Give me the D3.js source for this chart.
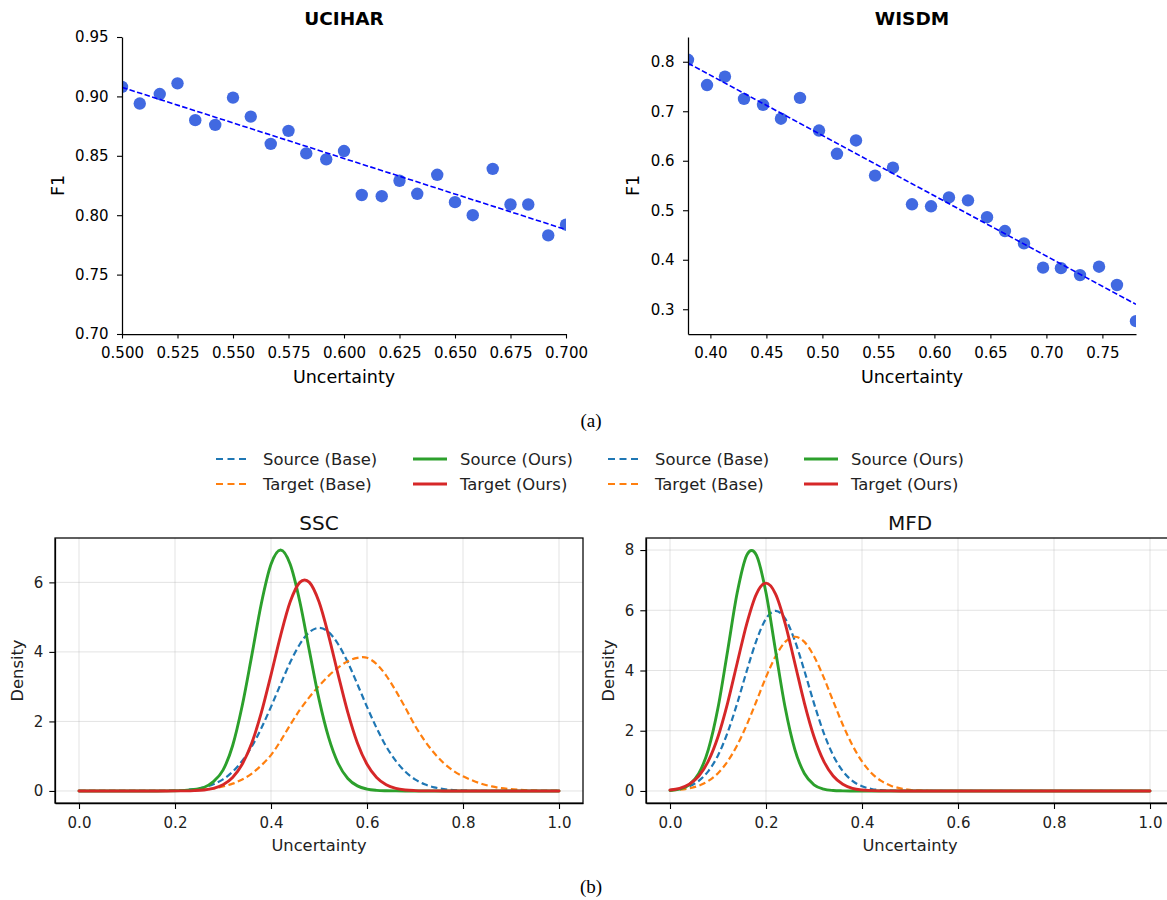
<!DOCTYPE html>
<html><head><meta charset="utf-8">
<script src="https://cdn.jsdelivr.net/npm/d3@7/dist/d3.min.js"></script>
<style>
body{margin:0;background:#fff}
svg{display:block}
text{font-family:"DejaVu Sans",sans-serif}
</style>
</head><body>
<svg id="c" width="1167" height="900"></svg>
<script>
// ---------- DATA ----------
const uciharU  = [0.500,0.508,0.517,0.525,0.533,0.542,0.550,0.558,0.567,0.575,0.583,0.592,0.600,0.608,0.617,0.625,0.633,0.642,0.650,0.658,0.667,0.675,0.683,0.692,0.700];
const uciharF1 = [0.908,0.894,0.902,0.911,0.880,0.876,0.899,0.883,0.860,0.871,0.852,0.847,0.854,0.817,0.816,0.829,0.818,0.834,0.811,0.800,0.839,0.809,0.809,0.783,0.792];
const wisdmU   = [0.380,0.397,0.413,0.430,0.447,0.463,0.480,0.497,0.513,0.530,0.547,0.563,0.580,0.597,0.613,0.630,0.647,0.663,0.680,0.697,0.713,0.730,0.747,0.763,0.780];
const wisdmF1  = [0.804,0.753,0.770,0.725,0.713,0.685,0.727,0.661,0.614,0.641,0.570,0.586,0.512,0.508,0.526,0.520,0.486,0.458,0.433,0.384,0.383,0.369,0.386,0.349,0.276];

const uciharTicksX = [0.500,0.525,0.550,0.575,0.600,0.625,0.650,0.675,0.700];
const uciharTicksY = [0.70,0.75,0.80,0.85,0.90,0.95];
const wisdmTicksX  = [0.40,0.45,0.50,0.55,0.60,0.65,0.70,0.75];
const wisdmTicksY  = [0.3,0.4,0.5,0.6,0.7,0.8];

const densU = [0.00,0.02,0.04,0.06,0.08,0.10,0.12,0.14,0.16,0.18,0.20,0.22,0.24,0.26,0.28,0.30,0.32,0.34,0.36,0.38,0.40,0.42,0.44,0.46,0.48,0.50,0.52,0.54,0.56,0.58,0.60,0.62,0.64,0.66,0.68,0.70,0.72,0.74,0.76,0.78,0.80,0.82,0.84,0.86,0.88,0.90,0.92,0.94,0.96,0.98,1.00];

const sscSourceBase = [0,0,0,0,0,0,0,0, 0.002,0.005,0.012,0.026,0.054,0.104,0.192,0.334,0.552,0.865, 1.28,1.81,2.42,3.07,3.70,4.22,4.57,4.69,4.57,4.22, 3.70,3.07,2.42,1.81,1.28,0.865,0.552,0.334,0.192,0.104, 0.054,0.026,0.012,0.005,0.002, 0,0,0,0,0,0,0,0];
const sscTargetBase = [0,0,0,0,0,0,0,0,0,0, 0.005,0.01,0.02,0.04,0.07,0.13,0.21,0.33,0.50,0.74, 1.03,1.44,1.90,2.33,2.70,3.02,3.31,3.55,3.73,3.83, 3.83,3.65,3.32,2.88,2.39,1.88,1.45,1.09,0.80,0.58, 0.42,0.30,0.20,0.13,0.08,0.05,0.03,0.015,0.007,0.003, 0.001];
const sscSourceOurs = [0,0,0,0,0,0,0,0,0, 0.001,0.005,0.017,0.045,0.10,0.27,0.60,1.30,2.45,3.90,5.40, 6.52,6.93,6.52,5.45,4.03,2.64,1.54,0.79,0.36,0.146, 0.053,0.017,0.005,0.001, 0,0,0,0,0,0,0,0,0,0,0,0,0,0,0,0,0];
const sscTargetOurs = [0,0,0,0,0,0,0,0,0,0, 0.001,0.003,0.010,0.028,0.074,0.178,0.389,0.768,1.38,2.26, 3.34,4.47,5.44,6.00,6.00,5.44,4.47,3.34,2.26,1.38, 0.768,0.389,0.178,0.074,0.028,0.010,0.003,0.001, 0,0,0,0,0,0,0,0,0,0,0,0,0];

const mfdSourceBase = [0.026,0.066,0.156,0.336,0.660,1.18,1.94,2.91,3.99,4.995, 5.72,5.98,5.72,4.995,3.99,2.91,1.94,1.18,0.660,0.336, 0.156,0.066,0.026,0.009,0.003,0.001, 0,0,0,0,0,0,0,0,0,0,0,0,0,0,0,0,0,0,0,0,0,0,0,0,0];
const mfdTargetBase = [0.017,0.040,0.086,0.176,0.333,0.591,0.981,1.52,2.20,2.98, 3.78,4.47,4.95,5.12,4.95,4.47,3.78,2.98,2.20,1.52, 0.981,0.591,0.333,0.176,0.086,0.040,0.017,0.007,0.003,0.001, 0,0,0,0,0,0,0,0,0,0,0,0,0,0,0,0,0,0,0,0,0];
const mfdSourceOurs = [0.015,0.061,0.205,0.579,1.38,2.76,4.65,6.58,7.83,7.83, 6.58,4.65,2.76,1.38,0.579,0.205,0.061,0.015,0.003, 0,0,0,0,0,0,0,0,0,0,0,0,0,0,0,0,0,0,0,0,0,0,0,0,0,0,0,0,0,0,0,0];
const mfdTargetOurs = [0.032,0.089,0.221,0.496,0.998,1.80,2.92,4.25,5.56,6.54, 6.90,6.54,5.56,4.25,2.92,1.80,0.998,0.496,0.221,0.089, 0.032,0.010,0.003,0.001, 0,0,0,0,0,0,0,0,0,0,0,0,0,0,0,0,0,0,0,0,0,0,0,0,0,0,0];

const densTicksX = [0.0,0.2,0.4,0.6,0.8,1.0];
const sscTicksY  = [0,2,4,6];
const mfdTicksY  = [0,2,4,6,8];

const seriesLabels = ["Source (Base)","Target (Base)","Source (Ours)","Target (Ours)"];
const seriesColors = ["#1f77b4","#ff7f0e","#2ca02c","#d62728"];
const seriesDashed = [true,true,false,false];

// ---------- DRAW ----------
const svg = d3.select("#c");
const defs = svg.append("defs");

function styleAxis(g, fs, col){
  g.select(".domain").attr("stroke","#000").attr("stroke-width",1.25);
  g.selectAll(".tick line").attr("stroke","#000").attr("stroke-width",1.1);
  g.selectAll(".tick text").attr("fill",col).style("font-size",fs+"px").style("font-family","DejaVu Sans");
}

function scatterPanel(p){
  const x = d3.scaleLinear().domain(p.xDom).range([p.left,p.right]);
  const y = d3.scaleLinear().domain(p.yDom).range([p.bottom,p.top]);
  const g = svg.append("g");
  defs.append("clipPath").attr("id","clip"+p.id).append("rect")
    .attr("x",p.left).attr("y",p.top).attr("width",p.right-p.left).attr("height",p.bottom-p.top);
  const pg = g.append("g").attr("clip-path",`url(#clip${p.id})`);
  pg.selectAll("circle").data(p.xs).join("circle")
    .attr("cx",d=>x(d)).attr("cy",(d,i)=>y(p.ys[i])).attr("r",6.2).attr("fill","#4169e1");
  // least squares trend line
  const mx=d3.mean(p.xs), my=d3.mean(p.ys);
  const sxy=d3.sum(p.xs,(d,i)=>(d-mx)*(p.ys[i]-my));
  const sxx=d3.sum(p.xs,d=>(d-mx)*(d-mx));
  const k=sxy/sxx, b=my-k*mx;
  pg.append("path").datum(p.xDom)
    .attr("d",d3.line().x(d=>x(d)).y(d=>y(k*d+b)))
    .attr("fill","none").attr("stroke","#0000ff").attr("stroke-width",1.6).attr("stroke-dasharray","5.5,2.4");

  const xa = g.append("g").attr("transform",`translate(0,${p.bottom})`)
    .call(d3.axisBottom(x).tickValues(p.xt).tickFormat(d3.format(p.xf)).tickSize(4.5).tickSizeOuter(0).tickPadding(9));
  styleAxis(xa,15,"#000");
  const ya = g.append("g").attr("transform",`translate(${p.left},0)`)
    .call(d3.axisLeft(y).tickValues(p.yt).tickFormat(d3.format(p.yf)).tickSize(5).tickSizeOuter(0).tickPadding(8.5));
  styleAxis(ya,15,"#000");

  const cx=(p.left+p.right)/2;
  g.append("text").attr("x",cx).attr("y",25).attr("text-anchor","middle")
    .style("font-size","18.5px").style("font-weight","bold").text(p.title);
  g.append("text").attr("x",cx).attr("y",383).attr("text-anchor","middle")
    .style("font-size","17.5px").text("Uncertainty");
  g.append("text").attr("transform",`translate(${p.ylabX},${(p.top+p.bottom)/2}) rotate(-90)`)
    .attr("text-anchor","middle").style("font-size","17.5px").text("F1");
}

scatterPanel({id:"u",left:122,right:566,top:37,bottom:334,xDom:[0.5,0.7],yDom:[0.70,0.95],
  xs:uciharU,ys:uciharF1,xt:uciharTicksX,yt:uciharTicksY,xf:".3f",yf:".2f",title:"UCIHAR",ylabX:63.5});
scatterPanel({id:"w",left:688,right:1136,top:37,bottom:334,xDom:[0.38,0.78],yDom:[0.25,0.85],
  xs:wisdmU,ys:wisdmF1,xt:wisdmTicksX,yt:wisdmTicksY,xf:".2f",yf:".1f",title:"WISDM",ylabX:638.5});

function densPanel(p){
  const x = d3.scaleLinear().domain([-0.05,1.05]).range([p.left,p.right]);
  const y = d3.scaleLinear().domain(p.yDom).range([p.bottom,p.top]);
  const g = svg.append("g");
  // grid
  g.append("g").selectAll("line").data(densTicksX).join("line")
    .attr("x1",d=>x(d)).attr("x2",d=>x(d)).attr("y1",p.top).attr("y2",p.bottom)
    .attr("stroke","#b0b0b0").attr("stroke-opacity",0.35).attr("stroke-width",1);
  g.append("g").selectAll("line").data(p.yt).join("line")
    .attr("y1",d=>y(d)).attr("y2",d=>y(d)).attr("x1",p.left).attr("x2",p.right)
    .attr("stroke","#b0b0b0").attr("stroke-opacity",0.35).attr("stroke-width",1);
  // curves
  const line = d3.line().x((d,i)=>x(densU[i])).y(d=>y(d)).curve(d3.curveCardinal.tension(0));
  p.series.forEach((s,j)=>{
    g.append("path").datum(s).attr("d",line).attr("fill","none")
      .attr("stroke",seriesColors[j])
      .attr("stroke-width",seriesDashed[j]?2.2:2.9)
      .attr("stroke-dasharray",seriesDashed[j]?"6.5,3.5":null)
      .attr("stroke-linecap",seriesDashed[j]?"butt":"round");
  });
  // axes
  const xa = g.append("g").attr("transform",`translate(0,${p.bottom})`)
    .call(d3.axisBottom(x).tickValues(densTicksX).tickFormat(d3.format(".1f")).tickSize(6).tickSizeOuter(0).tickPadding(8.5));
  styleAxis(xa,15,"#222");
  const ya = g.append("g").attr("transform",`translate(${p.left},0)`)
    .call(d3.axisLeft(y).tickValues(p.yt).tickFormat(d3.format("d")).tickSize(5.7).tickSizeOuter(0).tickPadding(6));
  styleAxis(ya,15,"#222");
  g.append("rect").attr("x",p.left).attr("y",p.top).attr("width",p.right-p.left).attr("height",p.bottom-p.top)
    .attr("fill","none").attr("stroke","#000").attr("stroke-width",1.25);
  const cx=(p.left+p.right)/2;
  g.append("text").attr("x",cx).attr("y",529.5).attr("text-anchor","middle")
    .style("font-size","20px").attr("fill","#111").text(p.title);
  g.append("text").attr("x",cx).attr("y",851).attr("text-anchor","middle")
    .style("font-size","16.3px").attr("fill","#222").text("Uncertainty");
  g.append("text").attr("transform",`translate(${p.ylabX},${(p.top+p.bottom)/2}) rotate(-90)`)
    .attr("text-anchor","middle").style("font-size","16.3px").attr("fill","#222").text("Density");
}

densPanel({left:55,right:583,top:538,bottom:803,yDom:[-0.3465,7.2765],yt:sscTicksY,title:"SSC",ylabX:23,
  series:[sscSourceBase,sscTargetBase,sscSourceOurs,sscTargetOurs]});
densPanel({left:646,right:1174,top:538,bottom:803,yDom:[-0.4,8.4],yt:mfdTicksY,title:"MFD",ylabX:614,
  series:[mfdSourceBase,mfdTargetBase,mfdSourceOurs,mfdTargetOurs]});

// legend: 4 columns x 2 rows (two copies of the series set)
const legTextX = [263,460,655,851];
const legRowY = [459,484];
const legend = svg.append("g");
for(let c=0;c<4;c++){
  for(let r=0;r<2;r++){
    const j = (c%2)*2 + r;
    const yy = legRowY[r], tx = legTextX[c];
    legend.append("line").attr("x1",tx-47).attr("x2",tx-13).attr("y1",yy).attr("y2",yy)
      .attr("stroke",seriesColors[j]).attr("stroke-width",seriesDashed[j]?2.2:3)
      .attr("stroke-dasharray",seriesDashed[j]?"7,4.5":null);
    legend.append("text").attr("x",tx).attr("y",yy).attr("dy","0.36em")
      .style("font-size","16.4px").attr("fill","#222").text(seriesLabels[j]);
  }
}

// captions
svg.append("text").attr("x",591).attr("y",427).attr("text-anchor","middle")
  .style("font-family","'Liberation Serif','Times New Roman',serif").style("font-size","19px").text("(a)");
svg.append("text").attr("x",591).attr("y",893).attr("text-anchor","middle")
  .style("font-family","'Liberation Serif','Times New Roman',serif").style("font-size","19px").text("(b)");
</script>
</body></html>
